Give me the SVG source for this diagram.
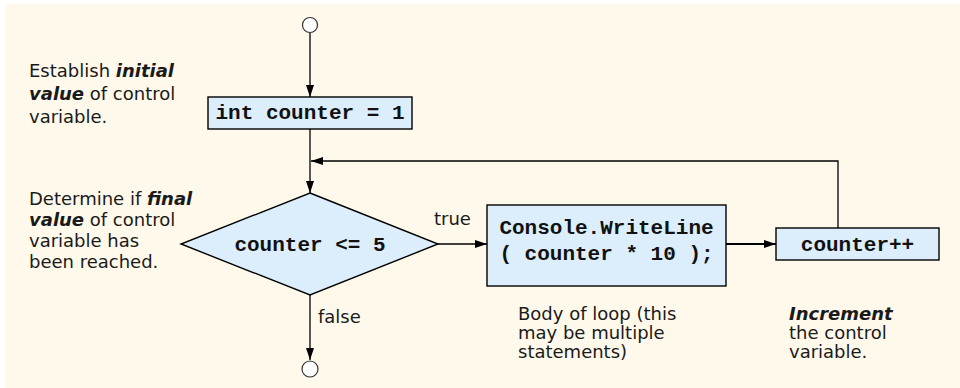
<svg xmlns="http://www.w3.org/2000/svg" width="960" height="388" viewBox="0 0 960 388">
  <style>
    .bg { fill: #FEF9EA; }
    .box { fill: #DCEEFB; stroke: #000; stroke-width: 1.4; }
    .term { fill: #FFFFFF; stroke: #333; stroke-width: 1.2; }
    .code { font-family: "Liberation Mono", "Courier New", monospace; font-weight: bold; font-size: 21px; fill: #111; text-anchor: middle; }
    .note { font-family: "DejaVu Sans", "Liberation Sans", sans-serif; font-size: 18px; fill: #1a1a1a; }
    .em { font-weight: bold; font-style: italic; }
    .conn { fill: none; stroke: #000; stroke-width: 1.3; }
    .thick { stroke-width: 2.2; }
  </style>
  <defs>
    <marker id="arr" markerUnits="userSpaceOnUse" markerWidth="13" markerHeight="9" refX="12" refY="4" orient="auto">
      <path d="M0,0 L12,4 L0,8 z" fill="#000"/>
    </marker>
  </defs>

  <rect x="0" y="0" width="960" height="388" fill="#FFFFFF"/>
  <rect class="bg" x="5" y="4" width="955" height="384"/>

  <g id="connectors">
    <line class="conn" x1="310" y1="33" x2="310" y2="97" marker-end="url(#arr)"/>
    <line class="conn" x1="310" y1="129" x2="310" y2="193" marker-end="url(#arr)"/>
    <polyline class="conn" points="838,228 838,161 311,161" marker-end="url(#arr)"/>
    <line class="conn" x1="438" y1="244" x2="487" y2="244" marker-end="url(#arr)"/>
    <line class="conn thick" x1="726" y1="244" x2="776" y2="244" marker-end="url(#arr)"/>
    <line class="conn" x1="310" y1="295" x2="310" y2="360" marker-end="url(#arr)"/>
  </g>

  <g id="start">
    <circle class="term" cx="310" cy="25" r="7.5"/>
  </g>

  <g id="init">
    <rect class="box" x="208" y="97" width="204" height="32"/>
    <text class="code" x="310" y="119">int counter = 1</text>
  </g>

  <g id="decision">
    <polygon class="box" points="310,193 438,244 310,295 181,244"/>
    <text class="code" x="310" y="251">counter &lt;= 5</text>
  </g>

  <g id="body">
    <rect class="box" x="487" y="205" width="239" height="81"/>
    <text class="code" x="606.5" y="234">Console.WriteLine</text>
    <text class="code" x="606.5" y="260">( counter * 10 );</text>
  </g>

  <g id="increment">
    <rect class="box" x="776" y="228" width="163" height="32"/>
    <text class="code" x="857.5" y="251">counter++</text>
  </g>

  <g id="end">
    <circle class="term" cx="310" cy="369" r="8"/>
  </g>

  <g id="labels">
    <text class="note" x="434" y="225">true</text>
    <text class="note" x="318" y="323">false</text>
  </g>

  <g id="note-init">
    <text class="note" x="29" y="77">Establish <tspan class="em">initial</tspan></text>
    <text class="note" x="29" y="100"><tspan class="em">value</tspan> of control</text>
    <text class="note" x="29" y="123">variable.</text>
  </g>

  <g id="note-final">
    <text class="note" x="29" y="205">Determine if <tspan class="em">final</tspan></text>
    <text class="note" x="29" y="226"><tspan class="em">value</tspan> of control</text>
    <text class="note" x="29" y="247">variable has</text>
    <text class="note" x="29" y="268">been reached.</text>
  </g>

  <g id="note-body">
    <text class="note" x="518" y="320">Body of loop (this</text>
    <text class="note" x="518" y="339">may be multiple</text>
    <text class="note" x="518" y="358">statements)</text>
  </g>

  <g id="note-increment">
    <text class="note em" x="789" y="320">Increment</text>
    <text class="note" x="789" y="339">the control</text>
    <text class="note" x="789" y="358">variable.</text>
  </g>
</svg>
